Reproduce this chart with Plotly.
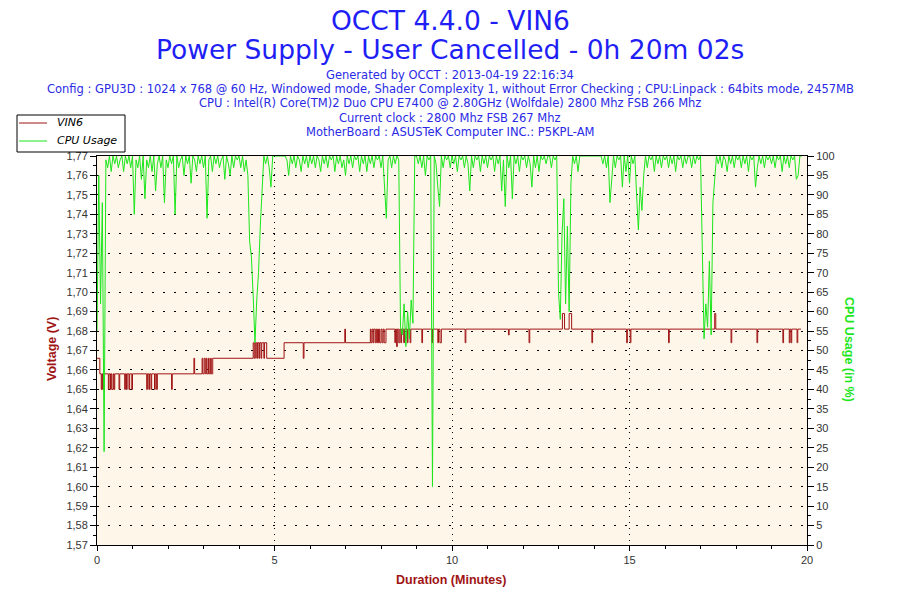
import plotly.graph_objects as go

# VIN6 voltage, step signal: minute where the reading changes, and the new reading (V)
volt_t = [
    0.00, 0.08, 0.12, 0.14, 0.16, 0.18,
    0.32, 0.34, 0.38, 0.40, 0.42, 0.46, 0.48, 0.50,
    0.62, 0.64, 0.78, 0.80, 0.83, 0.85, 0.90, 0.92, 0.98, 1.00,
    1.40, 1.42, 1.46, 1.48, 1.52, 1.54, 1.62, 1.64, 1.68, 1.70,
    2.10, 2.12, 2.73, 2.75,
    2.96, 2.98, 3.02, 3.05, 3.08, 3.10, 3.14, 3.16, 3.20, 3.22, 3.26,
    4.40, 4.43, 4.46, 4.50, 4.52, 4.56, 4.58, 4.62, 4.64, 4.70, 4.72, 4.78,
    5.27, 5.81, 5.83, 6.98, 7.00,
    7.70, 7.72, 7.75, 7.78, 7.80, 7.84, 7.87, 7.90, 7.93, 7.96, 8.00, 8.03, 8.06, 8.09, 8.14,
    8.39, 8.41, 8.44, 8.46, 8.50, 8.53, 8.56, 8.58, 8.64, 8.66, 8.74, 8.76, 8.82, 8.84,
    9.15, 9.17, 9.43, 9.45, 9.60, 9.62, 9.66, 9.70,
    10.37, 10.39, 11.59, 11.61, 12.17, 12.19,
    13.11, 13.17, 13.30, 13.37,
    13.94, 13.96, 14.92, 14.94, 15.02, 15.04, 16.10, 16.12,
    17.40, 17.43, 17.86, 17.88, 18.59, 18.61,
    19.32, 19.34, 19.50, 19.52, 19.55, 19.57, 19.72, 19.74, 19.83,
]
volt_v = [
    1.666, 1.658, 1.650, 1.658, 1.650, 1.658,
    1.650, 1.658, 1.650, 1.658, 1.650, 1.658, 1.650, 1.658,
    1.650, 1.658, 1.650, 1.658, 1.650, 1.658, 1.650, 1.658, 1.650, 1.658,
    1.650, 1.658, 1.650, 1.658, 1.650, 1.658, 1.650, 1.658, 1.650, 1.658,
    1.650, 1.658, 1.666, 1.658,
    1.666, 1.658, 1.666, 1.658, 1.666, 1.658, 1.666, 1.658, 1.666, 1.658, 1.666,
    1.674, 1.666, 1.674, 1.666, 1.674, 1.666, 1.674, 1.666, 1.674, 1.666, 1.674, 1.666,
    1.674, 1.666, 1.674, 1.681, 1.674,
    1.681, 1.674, 1.681, 1.674, 1.681, 1.674, 1.681, 1.674, 1.681, 1.674, 1.681, 1.674, 1.681, 1.674, 1.681,
    1.674, 1.681, 1.672, 1.681, 1.674, 1.681, 1.674, 1.681, 1.674, 1.681, 1.674, 1.681, 1.674, 1.681,
    1.674, 1.681, 1.674, 1.681, 1.674, 1.681, 1.674, 1.681,
    1.674, 1.681, 1.678, 1.681, 1.674, 1.681,
    1.689, 1.681, 1.689, 1.681,
    1.674, 1.681, 1.674, 1.681, 1.674, 1.681, 1.674, 1.681,
    1.689, 1.681, 1.674, 1.681, 1.674, 1.681,
    1.674, 1.681, 1.674, 1.681, 1.674, 1.681, 1.674, 1.681, 1.681,
]

# CPU usage (%), one reading every 0.05 min, one row per minute
cpu_step = 0.05
cpu_pct = [
    55, 95, 62, 88, 24, 99, 97, 100, 96, 100, 98, 100, 97, 99, 100, 96, 100, 98, 100, 97,
    100, 85, 99, 97, 100, 94, 100, 89, 99, 97, 100, 96, 100, 91, 98, 100, 97, 100, 88, 99,
    97, 100, 98, 100, 85, 100, 97, 99, 100, 95, 100, 98, 100, 93, 100, 99, 96, 100, 98, 100,
    97, 100, 84, 99, 100, 96, 100, 98, 100, 97, 99, 100, 94, 100, 98, 95, 100, 97, 100, 99,
    100, 97, 100, 96, 99, 95, 78, 74, 64, 52, 63, 70, 82, 92, 100, 98, 100, 97, 92, 100,
    100, 100, 100, 100, 100, 100, 100, 99, 95, 100, 98, 100, 97, 100, 99, 96, 100, 98, 100, 97,
    100, 98, 100, 97, 100, 99, 96, 100, 98, 100, 97, 100, 99, 100, 96, 100, 98, 100, 97, 99,
    95, 100, 98, 100, 97, 100, 99, 100, 96, 100, 98, 100, 96, 100, 98, 100, 97, 100, 99, 100,
    97, 100, 93, 84, 99, 100, 97, 100, 98, 100, 99, 56, 54, 62, 51, 60, 53, 63, 57, 100,
    100, 98, 100, 97, 100, 95, 100, 99, 100, 15, 100, 98, 92, 87, 100, 97, 100, 99, 100, 97,
    100, 98, 100, 96, 100, 99, 100, 97, 100, 98, 91, 100, 97, 100, 99, 100, 96, 100, 98, 100,
    97, 100, 99, 100, 96, 100, 98, 100, 91, 99, 87, 100, 97, 100, 89, 100, 98, 100, 96, 100,
    99, 100, 97, 100, 98, 92, 100, 97, 100, 96, 100, 99, 100, 98, 100, 100, 97, 100, 99, 100,
    65, 58, 80, 89, 62, 82, 60, 93, 100, 98, 100, 96, 100, 100, 100, 100, 100, 100, 100, 100,
    100, 100, 100, 100, 100, 98, 100, 97, 100, 88, 95, 100, 97, 100, 99, 100, 92, 100, 96, 100,
    93, 100, 98, 100, 90, 81, 92, 86, 95, 100, 97, 100, 99, 100, 96, 100, 98, 100, 97, 100,
    99, 100, 97, 100, 98, 100, 96, 100, 99, 100, 97, 100, 98, 100, 100, 97, 100, 98, 100, 99,
    100, 80, 53, 62, 56, 73, 54, 88, 95, 100, 98, 100, 97, 100, 99, 96, 100, 98, 100, 97,
    100, 99, 100, 97, 100, 98, 100, 96, 100, 99, 100, 92, 97, 100, 98, 100, 97, 100, 99, 100,
    98, 100, 97, 100, 99, 100, 96, 100, 98, 100, 97, 100, 99, 100, 94, 95, 100, 100,
]
cpu_t = [round(i * cpu_step, 2) for i in range(len(cpu_pct))]

title_lines = ["OCCT 4.4.0 - VIN6", "Power Supply - User Cancelled - 0h 20m 02s"]
info_lines = [
    "Generated by OCCT : 2013-04-19 22:16:34",
    "Config : GPU3D : 1024 x 768 @ 60 Hz, Windowed mode, Shader Complexity 1, without Error Checking ; CPU:Linpack : 64bits mode, 2457MB",
    "CPU : Intel(R) Core(TM)2 Duo CPU E7400 @ 2.80GHz (Wolfdale) 2800 Mhz FSB 266 Mhz",
    "Current clock : 2800 Mhz FSB 267 Mhz",
    "MotherBoard : ASUSTeK Computer INC.: P5KPL-AM",
]
legend_names = ["VIN6", "CPU Usage"]
red = "#A01414"
green = "#1CE61C"

W, H = 900, 600
L, R, T, B = 97, 807, 156, 545  # plot area in pixels


def px(x):
    return (x - L) / (R - L)


def py(y):
    return (B - y) / (B - T)


fig = go.Figure()
fig.add_trace(go.Scatter(x=volt_t, y=volt_v, name=legend_names[0], mode="lines",
                         line=dict(color=red, width=1, shape="hv")))
fig.add_trace(go.Scatter(x=cpu_t, y=cpu_pct, name=legend_names[1], mode="lines", yaxis="y2",
                         line=dict(color=green, width=1)))

tickfont = dict(family="Liberation Sans", size=11, color="#333333")
ann = []
for text, y in [(title_lines[0], 20), (title_lines[1], 50)]:
    ann.append(dict(text=text, x=px(450), y=py(y), font=dict(family="DejaVu Sans", size=26.5, color="#1E1EF5")))
for i, text in enumerate(info_lines):
    ann.append(dict(text=text, x=px(450), y=py(75 + i * 14.2),
                    font=dict(family="DejaVu Sans", size=11.5, color="#2A2AE6")))
ann.append(dict(text="<b>Voltage (V)</b>", x=px(52), y=py(349), textangle=-90,
                font=dict(family="Liberation Sans", size=12.5, color=red)))
ann.append(dict(text="<b>CPU Usage (in %)</b>", x=px(849), y=py(349), textangle=90,
                font=dict(family="Liberation Sans", size=12.5, color=green)))
ann.append(dict(text="<b>Duration (Minutes)</b>", x=px(451), y=py(580),
                font=dict(family="Liberation Sans", size=12.5, color=red)))
for a in ann:
    a.update(xanchor="center")
# legend box drawn by hand to match the compact original
for name, y in zip(legend_names, [123, 141]):
    ann.append(dict(text="<i>" + name + "</i>", x=px(55), y=py(y), xanchor="left",
                    font=dict(family="DejaVu Sans", size=11, color="black")))
for a in ann:
    a.update(xref="paper", yref="paper", showarrow=False, yanchor="middle")

shapes = [
    dict(type="rect", xref="paper", yref="paper", x0=px(17), x1=px(125), y0=py(115), y1=py(152),
         fillcolor="white", line=dict(color="black", width=1), layer="above"),
    dict(type="line", xref="paper", yref="paper", x0=px(19), x1=px(47), y0=py(123), y1=py(123),
         line=dict(color=red, width=1), layer="above"),
    dict(type="line", xref="paper", yref="paper", x0=px(19), x1=px(47), y0=py(141), y1=py(141),
         line=dict(color=green, width=1), layer="above"),
]

fig.update_layout(
    width=W, height=H,
    margin=dict(l=L, r=W - R, t=T, b=H - B, pad=0),
    paper_bgcolor="white", plot_bgcolor="#FDF6E9",
    separators=",.",
    showlegend=False,
    annotations=ann,
    shapes=shapes,
    xaxis=dict(range=[0, 20], tickvals=[0, 5, 10, 15, 20], showgrid=True,
               gridcolor="black", gridwidth=1, griddash="1px,5px",
               ticks="outside", ticklen=5, tickcolor="black",
               minor=dict(dtick=1, ticks="outside", ticklen=3, tickcolor="black", showgrid=False),
               showline=True, linecolor="black", linewidth=1, mirror=True,
               zeroline=False, tickfont=tickfont),
    yaxis=dict(range=[1.57, 1.77], tick0=1.57, dtick=0.01, tickformat=".2f",
               showgrid=True, gridcolor="black", gridwidth=1, griddash="2px,9px",
               ticks="outside", ticklen=6, tickcolor="black",
               minor=dict(dtick=0.005, ticks="outside", ticklen=3, tickcolor="black", showgrid=False),
               showline=True, linecolor="black", linewidth=1,
               zeroline=False, tickfont=tickfont),
    yaxis2=dict(range=[0, 100], dtick=5, overlaying="y", side="right", showgrid=False,
                ticks="outside", ticklen=6, tickcolor="black",
                minor=dict(dtick=2.5, ticks="outside", ticklen=3, tickcolor="black"),
                showline=True, linecolor="black", linewidth=1,
                zeroline=False, tickfont=tickfont),
)

# drop the default 8px body margin so the figure sits at the page corner
fig.write_html("out.html", config=dict(displayModeBar=False),
               post_script="document.body.style.margin = '0';")
